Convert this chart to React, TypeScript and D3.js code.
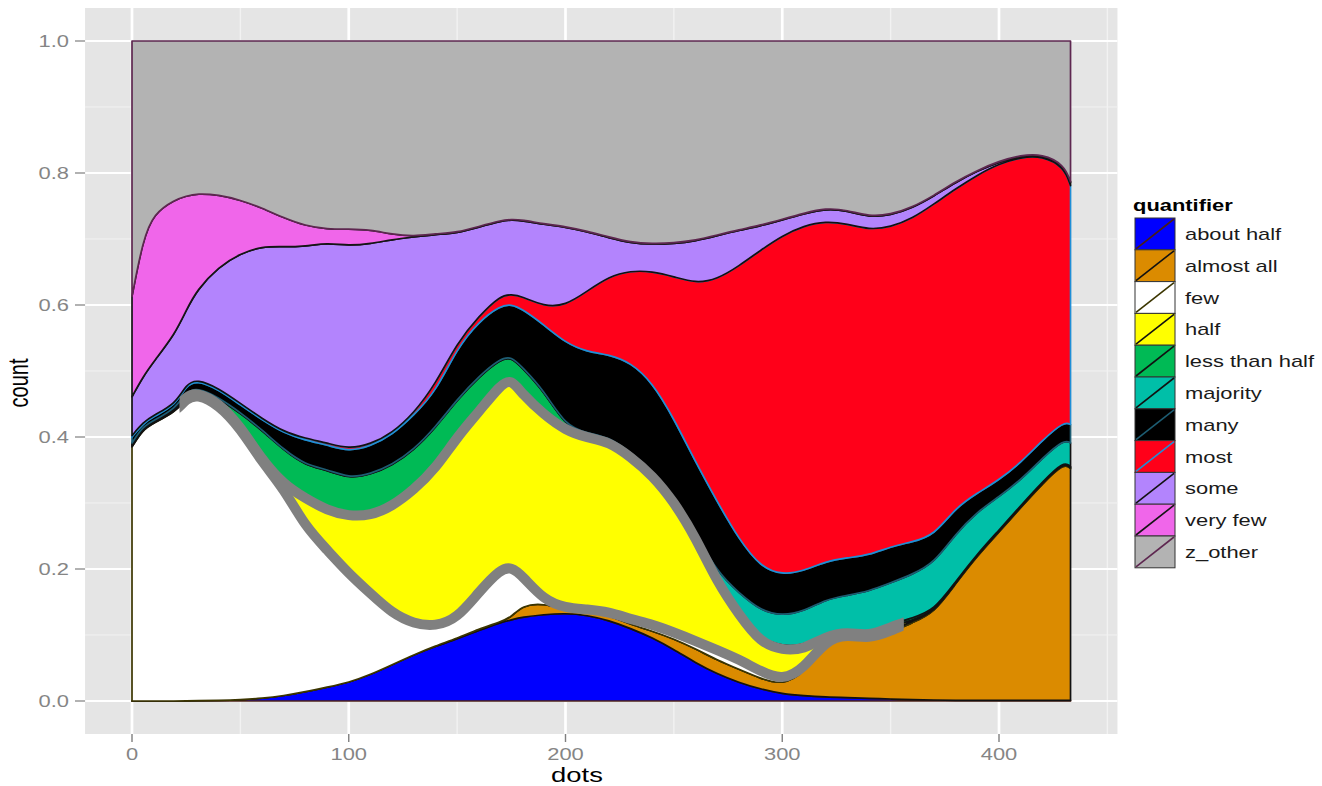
import React, { useRef, useEffect } from "react";
import * as d3 from "d3";

const dots = [0, 5, 10, 20, 25, 30, 40, 50, 60, 70, 80, 90, 100, 110, 120, 130, 140, 150, 160, 170, 175, 180, 190, 200, 210, 220, 230, 240, 250, 260, 270, 280, 290, 300, 310, 320, 330, 340, 350, 360, 370, 380, 390, 400, 410, 420, 430, 433];

// cumulative share (position = "fill") up to and including each quantifier
const upToAboutHalf = [0, 0, 0, 0, 0, 0.0005, 0.001, 0.002, 0.004, 0.008, 0.014, 0.021, 0.028, 0.04, 0.055, 0.07, 0.083, 0.094, 0.107, 0.119, 0.123, 0.127, 0.131, 0.133, 0.13, 0.122, 0.11, 0.096, 0.078, 0.058, 0.041, 0.028, 0.018, 0.011, 0.008, 0.006, 0.005, 0.004, 0.003, 0.002, 0.0015, 0.001, 0.001, 0.001, 0.001, 0.001, 0.001, 0.001];
const upToAlmostAll = [0, 0, 0, 0, 0, 0.0005, 0.001, 0.002, 0.004, 0.008, 0.014, 0.021, 0.028, 0.04, 0.055, 0.07, 0.0835, 0.095, 0.109, 0.12, 0.127, 0.145, 0.148, 0.138, 0.135, 0.13, 0.116, 0.106, 0.094, 0.079, 0.062, 0.048, 0.034, 0.024, 0.042, 0.088, 0.097, 0.091, 0.103, 0.119, 0.133, 0.178, 0.22, 0.256, 0.293, 0.329, 0.361, 0.352];
const upToFew = [0.385, 0.411, 0.421, 0.438, 0.458, 0.465, 0.449, 0.413, 0.362, 0.322, 0.264, 0.229, 0.193, 0.163, 0.133, 0.117, 0.113, 0.125, 0.165, 0.2, 0.203, 0.19, 0.153, 0.141, 0.139, 0.135, 0.124, 0.116, 0.104, 0.091, 0.077, 0.063, 0.045, 0.031, 0.049, 0.092, 0.101, 0.094, 0.106, 0.121, 0.134, 0.179, 0.221, 0.257, 0.294, 0.33, 0.362, 0.353];
const upToHalf = [0.387, 0.413, 0.423, 0.44, 0.462, 0.468, 0.452, 0.416, 0.365, 0.328, 0.307, 0.289, 0.28, 0.281, 0.295, 0.32, 0.352, 0.4, 0.438, 0.479, 0.488, 0.465, 0.434, 0.41, 0.399, 0.393, 0.37, 0.342, 0.302, 0.248, 0.18, 0.131, 0.088, 0.077, 0.078, 0.098, 0.105, 0.098, 0.112, 0.123, 0.135, 0.18, 0.222, 0.258, 0.295, 0.331, 0.363, 0.354];
const upToLessThanHalf = [0.389, 0.415, 0.424, 0.442, 0.466, 0.473, 0.458, 0.436, 0.41, 0.38, 0.357, 0.35, 0.337, 0.343, 0.357, 0.38, 0.414, 0.456, 0.491, 0.518, 0.521, 0.505, 0.47, 0.416, 0.405, 0.399, 0.376, 0.348, 0.308, 0.254, 0.186, 0.137, 0.094, 0.083, 0.084, 0.103, 0.109, 0.102, 0.116, 0.126, 0.137, 0.181, 0.223, 0.259, 0.296, 0.332, 0.364, 0.355];
const upToMajority = [0.391, 0.416, 0.425, 0.443, 0.468, 0.475, 0.46, 0.437, 0.411, 0.381, 0.358, 0.351, 0.338, 0.344, 0.358, 0.381, 0.415, 0.457, 0.492, 0.519, 0.522, 0.506, 0.471, 0.417, 0.406, 0.4, 0.377, 0.349, 0.309, 0.255, 0.195, 0.164, 0.137, 0.129, 0.136, 0.154, 0.16, 0.1665, 0.179, 0.192, 0.2086, 0.2535, 0.287, 0.3096, 0.335, 0.368, 0.3965, 0.391];
const upToMany = [0.4, 0.42, 0.431, 0.448, 0.478, 0.486, 0.472, 0.4485, 0.426, 0.406, 0.395, 0.388, 0.378, 0.386, 0.403, 0.433, 0.468, 0.5345, 0.575, 0.599, 0.601, 0.594, 0.57, 0.5426, 0.529, 0.525, 0.513, 0.483, 0.428, 0.362, 0.302, 0.245, 0.203, 0.191, 0.197, 0.2115, 0.217, 0.221, 0.234, 0.241, 0.2506, 0.293, 0.315, 0.335, 0.361, 0.395, 0.4235, 0.419];
const upToMost = [0.402, 0.422, 0.433, 0.45, 0.48, 0.488, 0.474, 0.451, 0.428, 0.408, 0.398, 0.391, 0.382, 0.389, 0.406, 0.436, 0.48, 0.5426, 0.583, 0.6146, 0.616, 0.613, 0.598, 0.599, 0.621, 0.643, 0.652, 0.651, 0.643, 0.633, 0.639, 0.659, 0.683, 0.705, 0.72, 0.727, 0.723, 0.714, 0.718, 0.731, 0.753, 0.776, 0.797, 0.814, 0.824, 0.826, 0.809, 0.781];
const upToSome = [0.461, 0.491, 0.514, 0.557, 0.592, 0.623, 0.658, 0.678, 0.689, 0.688, 0.689, 0.694, 0.69, 0.693, 0.699, 0.703, 0.707, 0.709, 0.718, 0.727, 0.729, 0.728, 0.722, 0.718, 0.711, 0.702, 0.694, 0.692, 0.693, 0.697, 0.705, 0.713, 0.72, 0.729, 0.738, 0.746, 0.743, 0.733, 0.736, 0.747, 0.765, 0.786, 0.803, 0.817, 0.826, 0.828, 0.812, 0.786];
const upToVeryFew = [0.613, 0.698, 0.739, 0.76, 0.765, 0.769, 0.767, 0.759, 0.747, 0.732, 0.72, 0.715, 0.715, 0.714, 0.707, 0.704, 0.708, 0.71, 0.719, 0.728, 0.73, 0.729, 0.723, 0.719, 0.712, 0.703, 0.695, 0.693, 0.694, 0.698, 0.706, 0.714, 0.721, 0.73, 0.739, 0.747, 0.744, 0.734, 0.737, 0.748, 0.766, 0.787, 0.804, 0.818, 0.827, 0.829, 0.813, 0.787];
const upToZOther = dots.map(() => 1);

const quantifiers = ["about half", "almost all", "few", "half", "less than half", "majority", "many", "most", "some", "very few", "z_other"];
const fills = ["#0000FF", "#DB8B00", "#FFFFFF", "#FFFF00", "#00BA55", "#00BFA8", "#000000", "#FF0019", "#B384FD", "#F066EA", "#B3B3B3"];
const outlines = ["#4a1f14", "#111111", "#3b3500", "#111111", "#111111", "#111111", "#1d5d73", "#1f8fd6", "#111111", "#151515", "#5e2750"];

// the grey highlight runs along the tops of "few" and "half" over this range
const highlightFrom = 22;
const highlightTo = 356;

const xTicks = [0, 100, 200, 300, 400];
const xMinor = [50, 150, 250, 350, 450];
const yTicks = [0, 0.2, 0.4, 0.6, 0.8, 1.0];
const yMinor = [0.1, 0.3, 0.5, 0.7, 0.9];

export default function App() {
  const svgRef = useRef<SVGSVGElement>(null);

  useEffect(() => {
    const svg = d3.select(svgRef.current);
    svg.selectAll("*").remove();

    const font = "'Liberation Sans', Arial, Helvetica, sans-serif";
    const stretch = 1.37; // the picture is wider than it was drawn

    const x = d3.scaleLinear().domain([0, 400]).range([132, 999]);
    const y = d3.scaleLinear().domain([0, 1]).range([701, 41]);

    // panel, expanded 5% like ggplot
    const xLo = -0.05 * 433, xHi = 433 * 1.05;
    const px0 = x(xLo), px1 = x(xHi);
    const py0 = y(1.05), py1 = y(-0.05);

    svg.append("rect")
      .attr("x", px0).attr("y", py0)
      .attr("width", px1 - px0).attr("height", py1 - py0)
      .attr("fill", "#E5E5E5");

    // grid
    const grid = svg.append("g");
    yMinor.forEach((v) => {
      grid.append("line").attr("x1", px0).attr("x2", px1).attr("y1", y(v)).attr("y2", y(v))
        .attr("stroke", "#F2F2F2").attr("stroke-width", 1);
    });
    xMinor.filter((v) => x(v) < px1).forEach((v) => {
      grid.append("line").attr("x1", x(v)).attr("x2", x(v)).attr("y1", py0).attr("y2", py1)
        .attr("stroke", "#F2F2F2").attr("stroke-width", 1.4);
    });
    yTicks.forEach((v) => {
      grid.append("line").attr("x1", px0).attr("x2", px1).attr("y1", y(v)).attr("y2", y(v))
        .attr("stroke", "#FFFFFF").attr("stroke-width", 2);
    });
    xTicks.forEach((v) => {
      grid.append("line").attr("x1", x(v)).attr("x2", x(v)).attr("y1", py0).attr("y2", py1)
        .attr("stroke", "#FFFFFF").attr("stroke-width", 2.7);
    });

    // shares per quantifier from the cumulative reads
    const cumulative = [upToAboutHalf, upToAlmostAll, upToFew, upToHalf, upToLessThanHalf, upToMajority, upToMany, upToMost, upToSome, upToVeryFew, upToZOther];
    const rows = dots.map((d, i) => {
      const row: any = { dots: d };
      quantifiers.forEach((q, k) => {
        row[q] = Math.max(0, cumulative[k][i] - (k > 0 ? cumulative[k - 1][i] : 0));
      });
      return row;
    });

    const series = d3.stack<any>()
      .keys(quantifiers)
      .offset(d3.stackOffsetExpand)(rows);

    // basis keeps the stacked edges in order and smooth, like the densities
    const area = d3.area<any>()
      .x((d) => x(d.data.dots))
      .y0((d) => y(d[0]))
      .y1((d) => y(d[1]))
      .curve(d3.curveBasis);

    svg.append("g")
      .selectAll("path")
      .data(series)
      .enter()
      .append("path")
      .attr("d", (s) => area(s))
      .attr("fill", (_, i) => fills[i])
      .attr("stroke", (_, i) => outlines[i])
      .attr("stroke-width", 1.7)
      .attr("stroke-linejoin", "round");

    // grey highlight
    svg.append("clipPath").attr("id", "hl-clip")
      .append("rect")
      .attr("x", x(highlightFrom)).attr("y", py0)
      .attr("width", x(highlightTo) - x(highlightFrom)).attr("height", py1 - py0);

    const topLine = d3.line<any>()
      .x((d) => x(d.data.dots))
      .y((d) => y(d[1]))
      .curve(d3.curveBasis);

    const hl = svg.append("g").attr("clip-path", "url(#hl-clip)");
    [series[2], series[3]].forEach((s) => {
      hl.append("path")
        .attr("d", topLine(s))
        .attr("fill", "none")
        .attr("stroke", "#808080")
        .attr("stroke-width", 10)
        .attr("stroke-linejoin", "round");
    });

    // text helper, stretched horizontally like the picture
    const label = (g: any, tx: number, ty: number, str: string, size: number, anchor: string, color: string, weight = "normal", rotate = 0) => {
      g.append("text")
        .attr("transform", `translate(${tx},${ty}) scale(${stretch},1)` + (rotate ? ` rotate(${rotate})` : ""))
        .attr("text-anchor", anchor)
        .attr("font-family", font)
        .attr("font-size", size)
        .attr("font-weight", weight)
        .attr("fill", color)
        .text(str);
    };

    // axes
    const axes = svg.append("g");
    yTicks.forEach((v) => {
      axes.append("line").attr("x1", 75).attr("x2", px0).attr("y1", y(v)).attr("y2", y(v))
        .attr("stroke", "#7F7F7F").attr("stroke-width", 1.2);
      label(axes, 69, y(v) + 6, d3.format(".1f")(v), 16, "end", "#858585");
    });
    xTicks.forEach((v) => {
      axes.append("line").attr("x1", x(v)).attr("x2", x(v)).attr("y1", py1).attr("y2", 742)
        .attr("stroke", "#7F7F7F").attr("stroke-width", 1.4);
      label(axes, x(v), 760, String(v), 16, "middle", "#858585");
    });
    label(axes, 577, 782, "dots", 20, "middle", "#000");
    label(axes, 28, 383, "count", 20, "middle", "#000", "normal", -90);

    // legend
    const legend = svg.append("g");
    label(legend, 1133, 211, "quantifier", 16, "start", "#000", "bold");
    const keyH = 31.8, keyW = 40, keyX = 1135, keyY = 218;
    quantifiers.forEach((q, i) => {
      const ky = keyY + i * keyH;
      legend.append("rect")
        .attr("x", keyX).attr("y", ky).attr("width", keyW).attr("height", keyH)
        .attr("fill", fills[i]).attr("stroke", "#333").attr("stroke-width", 1);
      legend.append("line")
        .attr("x1", keyX + 1).attr("y1", ky + keyH - 1).attr("x2", keyX + keyW - 1).attr("y2", ky + 1)
        .attr("stroke", outlines[i]).attr("stroke-width", 1.6);
      label(legend, 1185, ky + 22, q, 16, "start", "#1a1a1a");
    });
  }, []);

  return (
    <svg
      ref={svgRef}
      width={1322}
      height={786}
      style={{ position: "absolute", left: 0, top: 0, display: "block", background: "#fff" }}
    ></svg>
  );
}
